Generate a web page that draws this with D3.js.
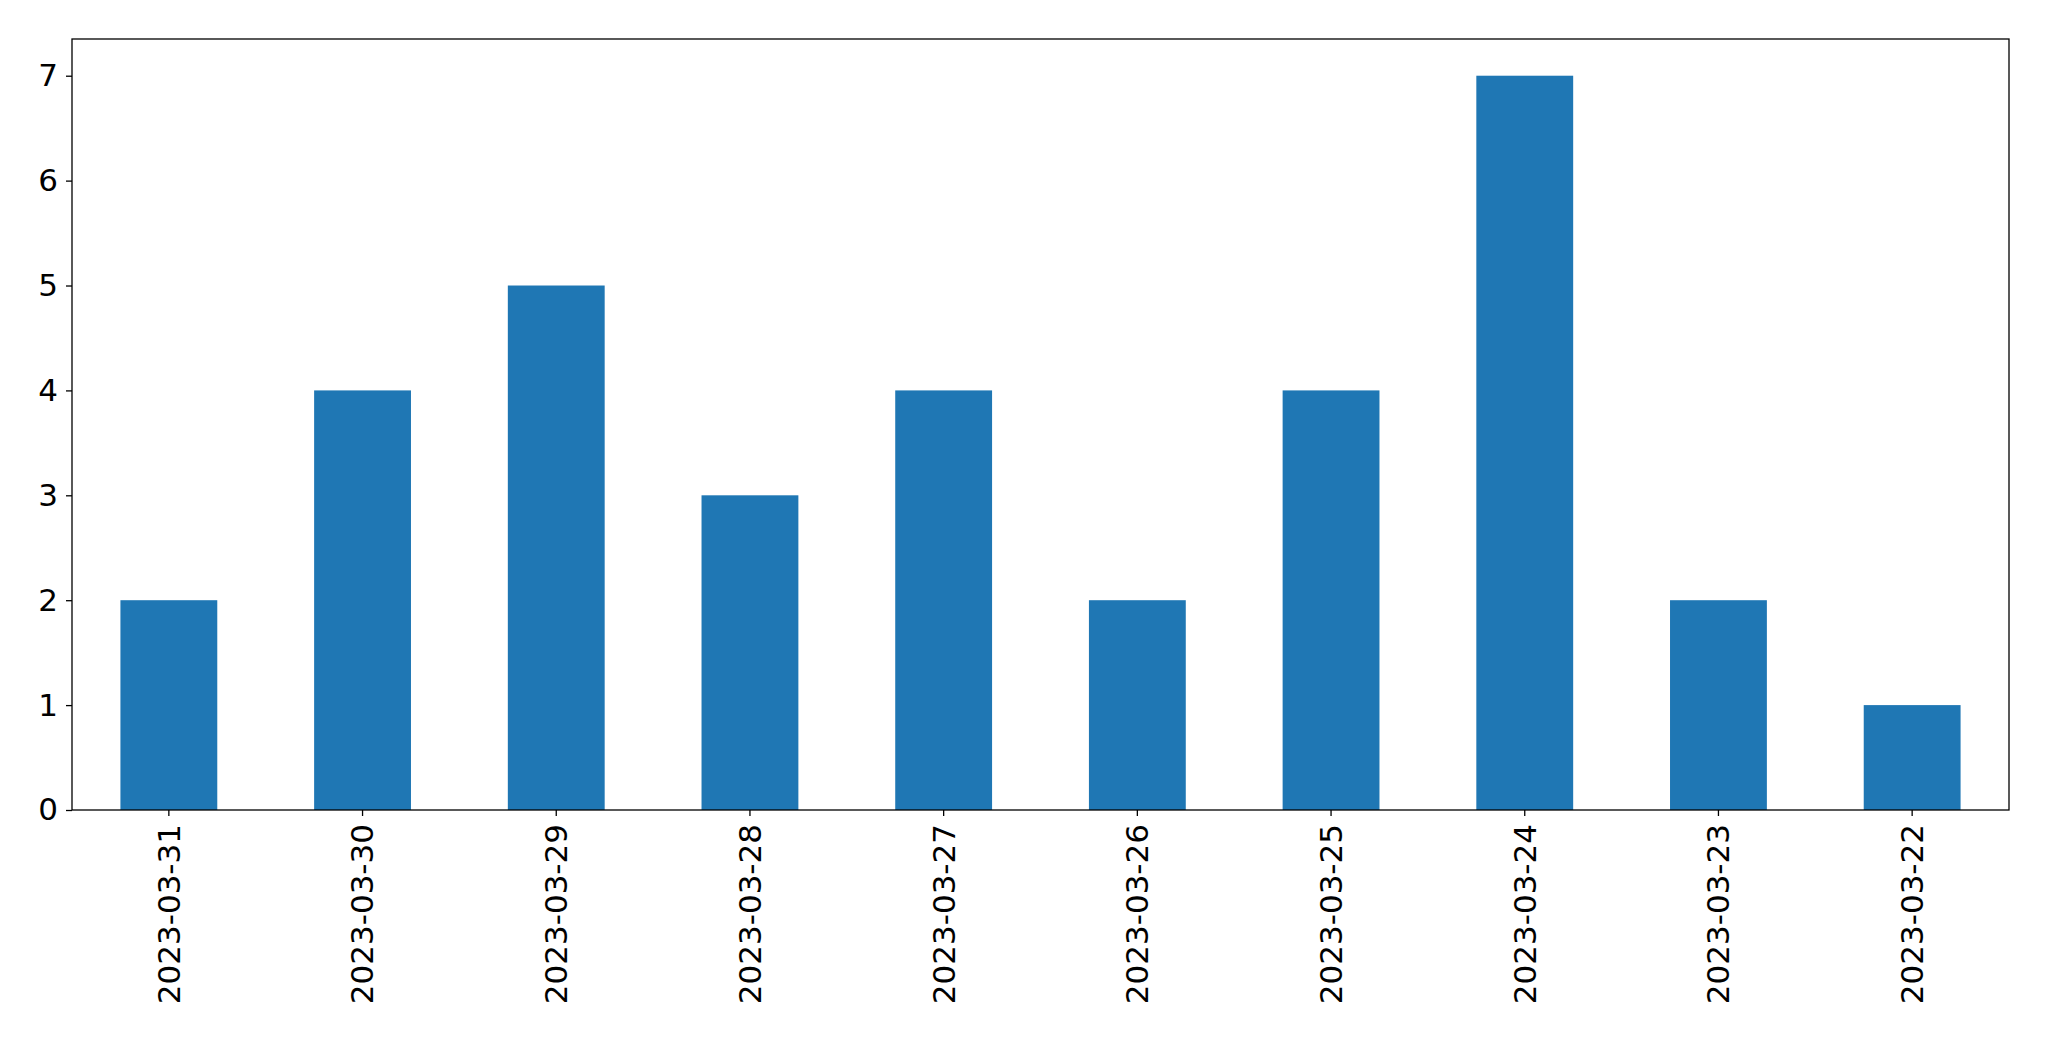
<!DOCTYPE html>
<html><head><meta charset="utf-8">
<script src="https://cdn.jsdelivr.net/npm/d3@7"></script>
<style>body{margin:0;background:#fff}</style></head>
<body><svg id="c" width="2049" height="1061"></svg>
<script>
const categories = ["2023-03-31","2023-03-30","2023-03-29","2023-03-28","2023-03-27","2023-03-26","2023-03-25","2023-03-24","2023-03-23","2023-03-22"];
const values = [2,4,5,3,4,2,4,7,2,1];
const yTicks = [0,1,2,3,4,5,6,7];

const m = {left:72, right:2009, top:39, bottom:810};
const svg = d3.select("#c");
const x = d3.scaleBand().domain(categories).range([m.left, m.right]).paddingInner(0.5).paddingOuter(0.25);
const y = d3.scaleLinear().domain([0, 7.35]).range([m.bottom, m.top]);

svg.append("g").selectAll("rect").data(values).join("rect")
  .attr("x",(d,i)=>x(categories[i])).attr("width",x.bandwidth())
  .attr("y",d=>y(d)).attr("height",d=>y(0)-y(d)).attr("fill","#1f77b4");

svg.append("rect").attr("x",m.left).attr("y",m.top).attr("width",m.right-m.left).attr("height",m.bottom-m.top)
  .attr("fill","none").attr("stroke","#000").attr("stroke-width",1.3);

const ya = svg.append("g").attr("transform",`translate(${m.left},0)`)
  .call(d3.axisLeft(y).tickValues(yTicks).tickFormat(d3.format("d")).tickSize(6).tickPadding(8));
ya.select(".domain").remove();
ya.selectAll("text").attr("font-family","DejaVu Sans").attr("font-size",31).attr("fill","#000");
ya.selectAll("line").attr("stroke","#000").attr("stroke-width",1.3);

const xa = svg.append("g").attr("transform",`translate(0,${m.bottom})`)
  .call(d3.axisBottom(x).tickSize(6).tickPadding(8));
xa.select(".domain").remove();
xa.selectAll("line").attr("stroke","#000").attr("stroke-width",1.3);
xa.selectAll("text").attr("font-family","DejaVu Sans").attr("font-size",31).attr("fill","#000")
  .attr("transform","rotate(-90)").attr("text-anchor","end").attr("dy","0.35em").attr("x",-14).attr("y",0);
</script></body></html>
